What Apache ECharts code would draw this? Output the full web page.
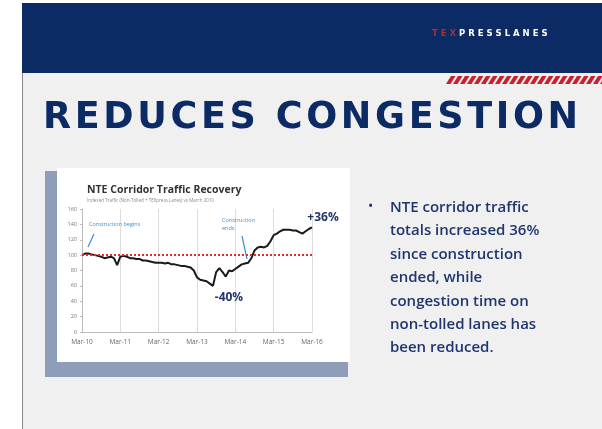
<!DOCTYPE html>
<html>
<head>
<meta charset="utf-8">
<script src="https://cdn.jsdelivr.net/npm/echarts@6/dist/echarts.min.js"></script>
<style>
  html, body { margin: 0; padding: 0; background: #ffffff; }
  #chart { width: 602px; height: 429px; }
</style>
</head>
<body>
<div id="chart"></div>
<script>
// monthly index, Mar-10 = 100
const months = [];
const monNames = ["Mar", "Apr", "May", "Jun", "Jul", "Aug", "Sep", "Oct", "Nov", "Dec", "Jan", "Feb"];
for (let i = 0; i <= 72; i++) {
  const yr = 10 + Math.floor((i + 2) / 12);
  months.push(monNames[i % 12] + "-" + yr);
}
const trafficIndex = [
  100, 102, 102, 101, 100, 99, 98, 96, 97, 98, 96, 87,
  98, 99, 98, 96, 96, 95, 95, 93, 93, 92, 91, 90,
  90, 90, 89, 90, 88, 88, 87, 86, 86, 85, 84, 80,
  71, 68, 67, 66, 63, 60, 78, 83, 78, 72, 80, 79,
  82, 85, 88, 89, 90, 96, 106, 110, 111, 110, 112, 118,
  126, 128, 131, 133, 133, 133, 132, 132, 130, 128, 131, 134,
  136
];
const yTicks = [0, 20, 40, 60, 80, 100, 120, 140, 160];
const baseline = 100;
const bullet = [
  "NTE corridor traffic",
  "totals increased 36%",
  "since construction",
  "ended, while",
  "congestion time on",
  "non-tolled lanes has",
  "been reduced."
];

const navy = "#0c2a64";
const textNavy = "#1f3570";
const hair = "\u200a";
const spaced = (s, sep) => s.split("").join(sep);

// red hatch stripes under the header
const stripes = [];
for (let x = 446; x < 606; x += 7) {
  stripes.push({
    type: "polygon",
    silent: true,
    shape: { points: [[x, 84], [x + 5, 76], [x + 9.5, 76], [x + 4.5, 84]] },
    style: { fill: "#c8202f" },
    z: -5
  });
}

const myChart = echarts.init(document.getElementById("chart"));
const options = {
  animation: false,
  backgroundColor: "#ffffff",
  title: {
    text: "NTE Corridor Traffic Recovery",
    subtext: "Indexed Traffic (Non-Tolled + TEXpress Lanes) vs March 2010",
    left: 82,
    top: 180,
    itemGap: 2,
    textStyle: { fontFamily: "Open Sans", fontSize: 10.5, fontWeight: "bold", color: "#333333" },
    subtextStyle: { fontFamily: "Open Sans", fontSize: 4.5, color: "#8a8a8a" }
  },
  graphic: [
    // slide body
    { type: "rect", silent: true, z: -10, shape: { x: 22, y: 3, width: 580, height: 426 }, style: { fill: "#f0f0f0" } },
    { type: "line", silent: true, z: -9, shape: { x1: 22.5, y1: 3, x2: 22.5, y2: 429 }, style: { stroke: "#8a8a8a", lineWidth: 1 } },
    // header band
    { type: "rect", silent: true, z: -9, shape: { x: 22, y: 3, width: 580, height: 70 }, style: { fill: navy } },
    {
      type: "text", silent: true, z: 3, x: 432, y: 34,
      style: {
        text: "{r|" + spaced("TEX", " ") + " }{w|" + spaced("PRESSLANES", " ") + "}",
        verticalAlign: "middle",
        rich: {
          r: { fill: "#b02a3a", fontFamily: "DejaVu Sans", fontWeight: "bold", fontSize: 8.5 },
          w: { fill: "#ffffff", fontFamily: "DejaVu Sans", fontWeight: "bold", fontSize: 8.5 }
        }
      }
    },
    ...stripes,
    // slide title
    {
      type: "text", silent: true, z: 3, x: 43, y: 119,
      style: {
        text: spaced("REDUCES CONGESTION", hair),
        fill: navy,
        font: "bold 36.5px 'DejaVu Sans'",
        verticalAlign: "middle"
      }
    },
    // chart card with shadow
    { type: "rect", silent: true, z: -8, shape: { x: 45, y: 171, width: 303, height: 206 }, style: { fill: "#8d9dba" } },
    { type: "rect", silent: true, z: -7, shape: { x: 57, y: 168, width: 293, height: 194 }, style: { fill: "#ffffff" } },
    // annotations
    {
      type: "text", silent: true, z: 5, x: 89, y: 224,
      style: { text: "Construction begins", fill: "#3f8fd2", fontFamily: "Open Sans", fontSize: 5.5, verticalAlign: "middle" }
    },
    { type: "line", silent: true, z: 5, shape: { x1: 94, y1: 234, x2: 88, y2: 247 }, style: { stroke: "#3f8fd2", lineWidth: 1.2 } },
    {
      type: "text", silent: true, z: 5, x: 222, y: 224,
      style: { text: "Construction\nends", fill: "#3f8fd2", fontFamily: "Open Sans", fontSize: 5.5, lineHeight: 8, verticalAlign: "middle" }
    },
    { type: "line", silent: true, z: 5, shape: { x1: 242, y1: 236, x2: 247, y2: 259 }, style: { stroke: "#3f8fd2", lineWidth: 1.2 } },
    // bullet
    {
      type: "text", silent: true, z: 3, x: 368, y: 207,
      style: { text: "•", fill: textNavy, fontFamily: "Open Sans", fontSize: 14, verticalAlign: "middle" }
    },
    {
      type: "text", silent: true, z: 3, x: 390, y: 196,
      style: {
        text: bullet.join("\n"),
        fill: textNavy,
        fontFamily: "Open Sans",
        fontWeight: 600,
        fontSize: 15,
        lineHeight: 23.4
      }
    }
  ],
  grid: { left: 82, top: 209, width: 230, height: 123 },
  xAxis: {
    type: "category",
    data: months,
    boundaryGap: false,
    axisLine: { lineStyle: { color: "#bbbbbb" } },
    axisTick: { show: false },
    axisLabel: {
      interval: 11,
      fontFamily: "Open Sans",
      fontSize: 6.5,
      color: "#666666",
      margin: 7
    },
    splitLine: { show: true, interval: 11, lineStyle: { color: "#dddddd", width: 1 } }
  },
  yAxis: {
    type: "value",
    min: yTicks[0],
    max: yTicks[yTicks.length - 1],
    interval: 20,
    axisLine: { show: true, lineStyle: { color: "#bbbbbb" } },
    axisTick: { show: true, length: 2, lineStyle: { color: "#bbbbbb" } },
    axisLabel: { fontFamily: "Open Sans", fontSize: 5.5, color: "#777777", margin: 5 },
    splitLine: { show: false }
  },
  series: [
    {
      name: "Indexed traffic",
      type: "line",
      data: trafficIndex,
      symbol: "none",
      z: 4,
      lineStyle: { color: "#1a1a1a", width: 2 },
      markLine: {
        silent: true,
        symbol: "none",
        label: { show: false },
        lineStyle: { color: "#e02b2b", type: "dotted", width: 2 },
        data: [{ yAxis: baseline }]
      },
      markPoint: {
        silent: true,
        symbol: "circle",
        symbolSize: 0,
        data: [
          {
            coord: [72, 136],
            label: { show: true, formatter: "+36%", offset: [11, -10], color: textNavy, fontFamily: "Open Sans", fontWeight: "bold", fontSize: 12 }
          },
          {
            coord: [41, 60],
            label: { show: true, formatter: "-40%", offset: [16, 12], color: textNavy, fontFamily: "Open Sans", fontWeight: "bold", fontSize: 12 }
          }
        ]
      }
    }
  ]
};
myChart.setOption(options);
window.addEventListener("resize", () => {
  myChart.resize();
});
</script>
</body>
</html>
